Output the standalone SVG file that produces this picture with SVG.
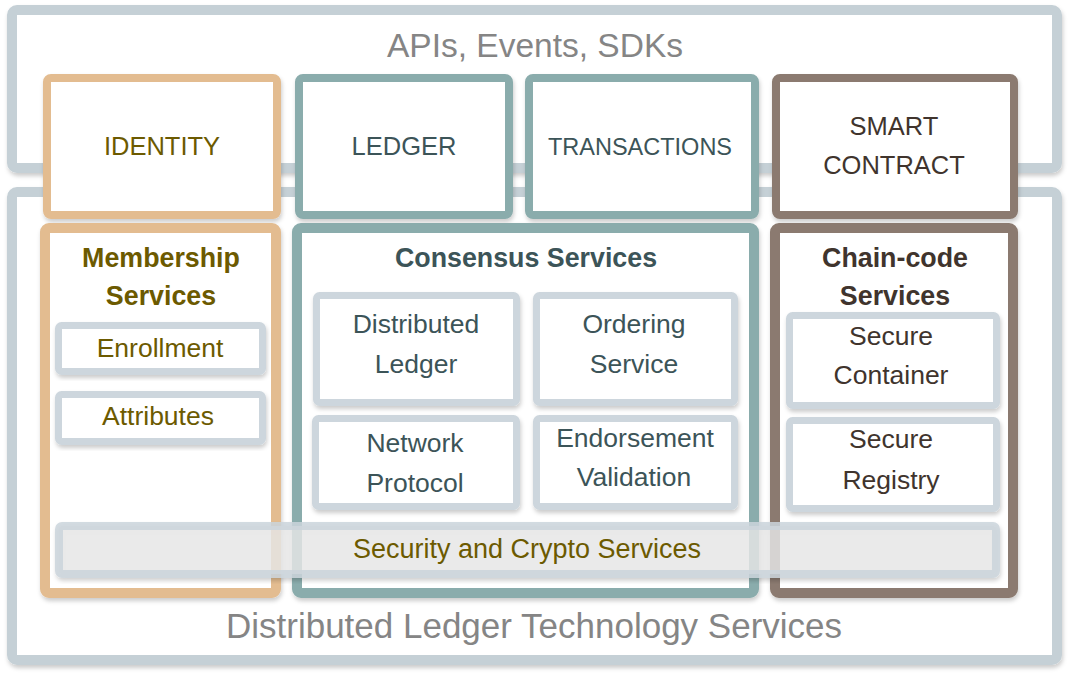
<svg xmlns="http://www.w3.org/2000/svg" width="1071" height="674" viewBox="0 0 1071 674">
  <defs>
    <filter id="shadow" x="-10%" y="-10%" width="120%" height="130%">
      <feDropShadow dx="1" dy="3" stdDeviation="2" flood-color="#000" flood-opacity="0.2"/>
    </filter>
    <style>
      text { font-family: "Liberation Sans", Arial, Helvetica, sans-serif; text-anchor: middle; }
      .frame { fill: #ffffff; stroke: #c5d0d6; stroke-width: 10; filter: url(#shadow); }
      .frame-title { font-size: 33.5px; fill: #858585; }
      .top { fill: #ffffff; stroke-width: 8; filter: url(#shadow); }
      .group { fill: #ffffff; stroke-width: 10; filter: url(#shadow); }
      .orange { stroke: #e3bc90; }
      .teal { stroke: #8aacac; }
      .brown { stroke: #8b7a6f; }
      .item { fill: #ffffff; stroke: #cdd6dd; stroke-width: 7; filter: url(#shadow); }
      .bar { fill: #eaeaea; fill-opacity: 0.8; stroke: #cbd5dc; stroke-opacity: 0.85; stroke-width: 8; filter: url(#shadow); }
      .caps { font-size: 25.5px; }
      .lbl { font-size: 26.5px; }
      .head { font-size: 26.8px; font-weight: bold; }
      .olive { fill: #6c5a00; }
      .slate { fill: #3c5458; }
      .umber { fill: #40342d; }
    </style>
  </defs>

  <!-- outer layers -->
  <g id="api-layer">
    <rect class="frame" x="12" y="10" width="1045" height="158" rx="5"/>
    <text class="frame-title" x="535" y="57">APIs, Events, SDKs</text>
  </g>
  <g id="dlt-layer">
    <rect class="frame" x="12" y="192" width="1045" height="468" rx="5"/>
    <text class="frame-title" x="534" y="638" style="font-size:35px">Distributed Ledger Technology Services</text>
  </g>

  <!-- top-level API boxes -->
  <g id="identity">
    <rect class="top orange" x="47" y="78" width="230" height="137" rx="4"/>
    <text class="caps olive" x="162" y="155">IDENTITY</text>
  </g>
  <g id="ledger">
    <rect class="top teal" x="299" y="78" width="210" height="137" rx="4"/>
    <text class="caps slate" x="404" y="155">LEDGER</text>
  </g>
  <g id="transactions">
    <rect class="top teal" x="529" y="78" width="226" height="137" rx="4"/>
    <text class="caps slate" x="640" y="155" style="font-size:23.5px">TRANSACTIONS</text>
  </g>
  <g id="smart-contract">
    <rect class="top brown" x="776" y="78" width="238" height="137" rx="4"/>
    <text class="caps umber" x="894" y="135">SMART</text>
    <text class="caps umber" x="894" y="174">CONTRACT</text>
  </g>

  <!-- service groups -->
  <g id="membership-services">
    <rect class="group orange" x="45" y="228" width="231" height="365" rx="4"/>
    <text class="head olive" x="161" y="267">Membership</text>
    <text class="head olive" x="161" y="305">Services</text>
  </g>
  <g id="consensus-services">
    <rect class="group teal" x="297" y="228" width="457" height="365" rx="4"/>
    <text class="head slate" x="526" y="267">Consensus Services</text>
  </g>
  <g id="chaincode-services">
    <rect class="group brown" x="775" y="228" width="238" height="365" rx="4"/>
    <text class="head umber" x="895" y="267">Chain-code</text>
    <text class="head umber" x="895" y="305">Services</text>
  </g>

  <!-- membership items -->
  <g id="enrollment">
    <rect class="item" x="58.5" y="325.5" width="204" height="46" rx="3"/>
    <text class="lbl olive" x="160" y="357">Enrollment</text>
  </g>
  <g id="attributes">
    <rect class="item" x="58.5" y="394.5" width="204" height="47" rx="3"/>
    <text class="lbl olive" x="158" y="425">Attributes</text>
  </g>

  <!-- consensus items -->
  <g id="distributed-ledger">
    <rect class="item" x="316.5" y="295.5" width="200" height="107" rx="3"/>
    <text class="lbl slate" x="416" y="333">Distributed</text>
    <text class="lbl slate" x="416" y="373">Ledger</text>
  </g>
  <g id="ordering-service">
    <rect class="item" x="536.5" y="295.5" width="198" height="107" rx="3"/>
    <text class="lbl slate" x="634" y="333">Ordering</text>
    <text class="lbl slate" x="634" y="373">Service</text>
  </g>
  <g id="network-protocol">
    <rect class="item" x="315.5" y="418.5" width="201" height="88" rx="3"/>
    <text class="lbl slate" x="415" y="452">Network</text>
    <text class="lbl slate" x="415" y="492">Protocol</text>
  </g>
  <g id="endorsement-validation">
    <rect class="item" x="536.5" y="418.5" width="198" height="88" rx="3"/>
    <text class="lbl slate" x="635" y="447">Endorsement</text>
    <text class="lbl slate" x="634" y="486">Validation</text>
  </g>

  <!-- chain-code items -->
  <g id="secure-container">
    <rect class="item" x="789.5" y="315.5" width="207" height="90" rx="3"/>
    <text class="lbl umber" x="891" y="345">Secure</text>
    <text class="lbl umber" x="891" y="384">Container</text>
  </g>
  <g id="secure-registry">
    <rect class="item" x="789.5" y="420.5" width="207" height="88" rx="3"/>
    <text class="lbl umber" x="891" y="448">Secure</text>
    <text class="lbl umber" x="891" y="489">Registry</text>
  </g>

  <!-- shared security layer spanning all groups -->
  <g id="security-crypto">
    <rect class="bar" x="59" y="526" width="937" height="48" rx="3"/>
    <text class="lbl olive" x="527" y="558" style="font-size:27px">Security and Crypto Services</text>
  </g>

  <!-- no connectors in this diagram -->
  <g id="connectors"/>
</svg>
